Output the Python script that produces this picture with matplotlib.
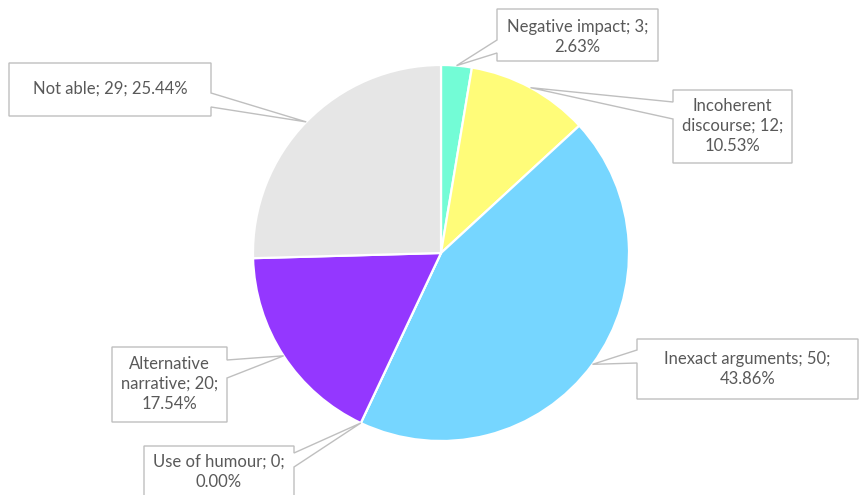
import matplotlib
matplotlib.use("Agg")
import matplotlib.pyplot as plt
from matplotlib.patches import Polygon
import numpy as np

categories = ["Negative impact", "Incoherent discourse", "Inexact arguments",
              "Use of humour", "Alternative narrative", "Not able"]
values = [3, 12, 50, 0, 20, 29]
label_texts = ["Negative impact; 3;\n2.63%",
               "Incoherent\ndiscourse; 12;\n10.53%",
               "Inexact arguments; 50;\n43.86%",
               "Use of humour; 0;\n0.00%",
               "Alternative\nnarrative; 20;\n17.54%",
               "Not able; 29; 25.44%"]
colors = ["#73FCD6", "#FFFC79", "#76D6FF", "#76D6FF", "#9437FF", "#E6E6E6"]

W, H = 861, 495
fig = plt.figure(figsize=(W / 100, H / 100), dpi=100)
ax = fig.add_axes([0, 0, 1, 1])

cx, cy_px, R = 441, 253, 188
cy = H - cy_px
ax.pie(values, colors=colors, startangle=90, counterclock=False,
       center=(cx, cy), radius=R,
       wedgeprops=dict(edgecolor="white", linewidth=1.6))
ax.set_xlim(0, W)
ax.set_ylim(0, H)
ax.set_aspect("auto")
ax.axis("off")

# callout layout: box (x0, y0, x1, y1) in px (top-left origin), side, base y pair, text center y
layout = [
    ((497, 9, 658, 61), "left", (40, 53), 37),
    ((673, 90, 792, 163), "left", (102, 119), 126),
    ((637, 339, 858, 399), "left", (350, 363), 369),
    ((144, 446, 294, 520), "right", (453, 467), 472),
    ((112, 347, 227, 422), "right", (360, 378), 384),
    ((9, 63, 211, 116), "right", (93, 107), 89),
]

total = sum(values)
cum = np.cumsum([0] + values)
edge = "#BFBFBF"
for i, (box, side, (ya, yb), tyc) in enumerate(layout):
    mid = (cum[i] + cum[i + 1]) / 2 / total
    ang = np.deg2rad(90 - 360 * mid)
    axp = cx + R * np.cos(ang)
    ayp = cy + R * np.sin(ang)
    x0, y0, x1, y1 = box
    Y = lambda y: H - y
    if side == "left":
        verts = [(x0, Y(y0)), (x1, Y(y0)), (x1, Y(y1)), (x0, Y(y1)),
                 (x0, Y(yb)), (axp, ayp), (x0, Y(ya))]
    else:
        verts = [(x0, Y(y0)), (x1, Y(y0)), (x1, Y(ya)), (axp, ayp),
                 (x1, Y(yb)), (x1, Y(y1)), (x0, Y(y1))]
    poly = Polygon(verts, closed=True, facecolor="white", edgecolor=edge,
                   linewidth=1.0, zorder=5, clip_on=False)
    ax.add_patch(poly)
    ax.text((x0 + x1) / 2, Y(tyc), label_texts[i], ha="center", va="center",
            fontsize=12, family="Lato", color="#595959", linespacing=1.32,
            zorder=6)

fig.savefig("out.png", dpi=100)
